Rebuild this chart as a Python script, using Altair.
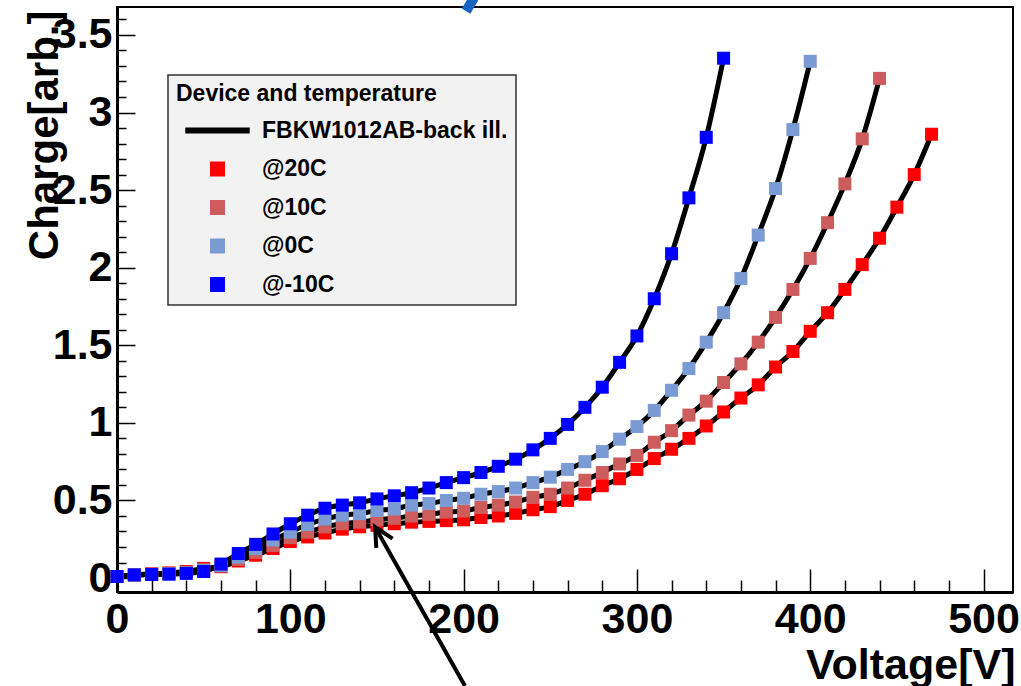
import altair as alt
import pandas as pd

# ---------------- data ----------------
legend_names = ["FBKW1012AB-back ill.", "@20C", "@10C", "@0C", "@-10C"]
legend_colors = ["#000000", "#ff0000", "#cd5c5c", "#7b9bd5", "#0000ff"]
legend_shapes = ["M-4.3,-0.4H4.3V0.4H-4.3Z", "square", "square", "square", "square"]

v_20 = list(range(0, 480, 10))
q_20 = [0.01, 0.02, 0.027, 0.033, 0.042, 0.062, 0.073, 0.11, 0.147, 0.19,
        0.235, 0.265, 0.29, 0.315, 0.33, 0.34, 0.35, 0.36, 0.365, 0.37,
        0.375, 0.39, 0.40, 0.417, 0.44, 0.46, 0.50, 0.54, 0.595, 0.64,
        0.70, 0.77, 0.83, 0.90, 0.98, 1.07, 1.16, 1.245, 1.36, 1.46,
        1.59, 1.71, 1.86, 2.02, 2.19, 2.39, 2.60, 2.86]

v_10 = list(range(0, 450, 10))
q_10 = [0.01, 0.02, 0.025, 0.03, 0.037, 0.055, 0.078, 0.12, 0.165, 0.21,
        0.26, 0.295, 0.33, 0.35, 0.36, 0.375, 0.385, 0.40, 0.41, 0.425,
        0.432, 0.455, 0.47, 0.49, 0.52, 0.54, 0.58, 0.63, 0.68, 0.735,
        0.79, 0.875, 0.95, 1.05, 1.14, 1.26, 1.38, 1.52, 1.68, 1.86,
        2.06, 2.29, 2.54, 2.83, 3.22]

v_0 = list(range(0, 410, 10))
q_0 = [0.01, 0.02, 0.023, 0.027, 0.033, 0.048, 0.08, 0.135, 0.19, 0.245,
       0.295, 0.345, 0.38, 0.405, 0.415, 0.435, 0.445, 0.47, 0.48, 0.50,
       0.514, 0.54, 0.557, 0.58, 0.615, 0.65, 0.70, 0.75, 0.815, 0.895,
       0.976, 1.08, 1.21, 1.35, 1.52, 1.71, 1.93, 2.21, 2.51, 2.89, 3.33]

v_m10 = list(range(0, 360, 10))
q_m10 = [0.01, 0.02, 0.023, 0.025, 0.03, 0.042, 0.09, 0.158, 0.217, 0.284,
         0.35, 0.405, 0.45, 0.47, 0.485, 0.51, 0.53, 0.55, 0.58, 0.615,
         0.647, 0.68, 0.72, 0.766, 0.826, 0.90, 0.99, 1.10, 1.23, 1.39,
         1.56, 1.80, 2.09, 2.45, 2.84, 3.35]

x_major = [0, 100, 200, 300, 400, 500]
x_minor = [v for v in range(0, 520, 20) if v % 100 != 0]
y_major = [0, 0.5, 1, 1.5, 2, 2.5, 3, 3.5]
y_minor = [round(i * 0.1, 1) for i in range(0, 37) if i % 5 != 0]

arrow_v = [200.8, 148.9]
arrow_q = [-0.696, 0.329]
slide_v = [201.4, 206.0]
slide_q = [3.654, 3.738]

# ---------------- tables ----------------
rows = []
for name, vs, qs in [("@20C", v_20, q_20), ("@10C", v_10, q_10),
                     ("@0C", v_0, q_0), ("@-10C", v_m10, q_m10)]:
    for v, q in zip(vs, qs):
        rows.append({"V": v, "Q": q, "T": name})
df = pd.DataFrame(rows)
arrow_df = pd.DataFrame({"V": arrow_v, "Q": arrow_q})
tip_df = pd.DataFrame({"V": [arrow_v[1]], "Q": [arrow_q[1]]})
slide_df = pd.DataFrame({"V": slide_v, "Q": slide_q})

FONT = "Liberation Sans"
NBSP = "\u00a0"
x_scale = alt.Scale(domain=[0, 517], nice=False, zero=False)
y_scale = alt.Scale(domain=[-0.09, 3.68], nice=False, zero=False)

x_label_axis = alt.Axis(values=x_major, labelFont=FONT, labelFontSize=43, labelFontWeight="bold",
                        labelColor="black", labelPadding=6, labelFlush=False, labelOverlap=False,
                        ticks=False, domainColor="black", domainWidth=3, grid=False,
                        title="Voltage[V]", titleFont=FONT, titleFontSize=43, titleFontWeight="bold",
                        titleColor="black", titleX=898, titleY=86, titleAlign="right",
                        titleBaseline="alphabetic")
y_label_axis = alt.Axis(values=y_major, format="~g", labelFont=FONT, labelFontSize=43,
                        labelFontWeight="bold", labelColor="black", labelPadding=5,
                        labelFlush=False, labelOverlap=False, ticks=False, domainColor="black",
                        domainWidth=3, grid=False, title="Charge[arb.]", titleFont=FONT,
                        titleFontSize=42, titleFontWeight="bold", titleColor="black",
                        titleX=-60, titleY=3, titleAngle=270, titleAlign="right",
                        titleBaseline="alphabetic")

def tick_axis(orient, vals, length):
    return alt.Axis(orient=orient, values=vals, offset=-length, tickSize=length, tickWidth=1.5,
                    tickColor="black", labels=False, domain=False, grid=False, title="")

legend = alt.Legend(title="Device and temperature", orient="none", legendX=51, legendY=68,
                    fillColor="#f2f2f2", strokeColor="#333333", padding=8,
                    titleFont=FONT, titleFontSize=23, titleFontWeight="bold", titleColor="black",
                    titlePadding=13, titleLimit=500,
                    labelFont=FONT, labelFontSize=23, labelFontWeight="bold", labelColor="black",
                    labelLimit=500, symbolSize=225, symbolOffset=30, labelOffset=33,
                    labelExpr="datum.label == 'FBKW1012AB-back ill.' ? datum.label + '"
                              + NBSP * 4 + "' : datum.label",
                    rowPadding=14.5, symbolStrokeWidth=0, symbolOpacity=1)

lines = alt.Chart(df).mark_line(color="black", strokeWidth=5, interpolate="monotone").encode(
    x=alt.X("V:Q", scale=x_scale, axis=x_label_axis),
    y=alt.Y("Q:Q", scale=y_scale, axis=y_label_axis),
    detail="T:N",
)

points = alt.Chart(df).mark_point(filled=True, size=169, opacity=1, strokeWidth=0).encode(
    x=alt.X("V:Q", scale=x_scale, axis=tick_axis("bottom", x_major, 23)),
    y=alt.Y("Q:Q", scale=y_scale, axis=tick_axis("left", y_major, 18)),
    color=alt.Color("T:N", scale=alt.Scale(domain=legend_names, range=legend_colors), legend=legend),
    shape=alt.Shape("T:N", scale=alt.Scale(domain=legend_names, range=legend_shapes), legend=legend),
)

arrow = alt.Chart(arrow_df).mark_line(color="black", strokeWidth=4).encode(
    x=alt.X("V:Q", scale=x_scale, axis=tick_axis("bottom", x_minor, 12)),
    y=alt.Y("Q:Q", scale=y_scale, axis=tick_axis("left", y_minor, 9)),
)

tip = alt.Chart(tip_df).mark_point(shape="M-1,2L0,0L1,2", filled=False, size=353, angle=330,
                                   color="black", strokeWidth=4, opacity=1).encode(
    x=alt.X("V:Q", scale=x_scale, axis=None),
    y=alt.Y("Q:Q", scale=y_scale, axis=None),
)

slide = alt.Chart(slide_df).mark_line(color="#1565c0", strokeWidth=10).encode(
    x=alt.X("V:Q", scale=x_scale, axis=None),
    y=alt.Y("Q:Q", scale=y_scale, axis=None),
)

chart = alt.layer(lines, points, arrow, tip, slide).resolve_axis(
    x="independent", y="independent"
).properties(
    width=896, height=585,
    autosize=alt.AutoSizeParams(type="none"),
    padding={"left": 117, "top": 7, "right": 8, "bottom": 94},
    background="white",
).configure_view(stroke="black", strokeWidth=2).configure_legend(strokeWidth=1.5)

chart.save("out.html", embed_options={"renderer": "svg", "actions": False})
